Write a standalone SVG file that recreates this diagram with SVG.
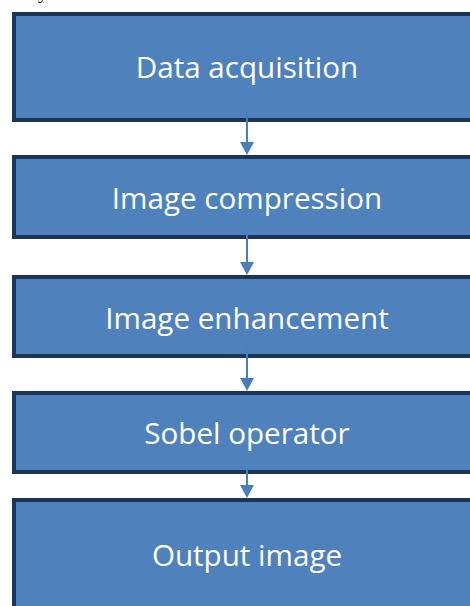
<svg xmlns="http://www.w3.org/2000/svg" width="470" height="606" viewBox="0 0 470 606">
<style>
.box{fill:#4F81BD;stroke:#1C3557;stroke-width:4}
.lbl{font-family:"Open Sans","Noto Sans",sans-serif;font-size:29.6px;fill:#FFFFFF;text-anchor:middle}
.conn{stroke:#4A7EBB;stroke-width:2;fill:none}
.head{fill:#4A7EBB}
</style>
<rect width="470" height="606" fill="#FFFFFF"/>
<text x="38" y="-2" font-family="'Liberation Serif',serif" font-size="20" fill="#000">y</text>
<g id="n1"><rect class="box" x="14" y="14" width="470" height="106"/><text class="lbl" x="247" y="78">Data acquisition</text></g>
<g id="n2"><rect class="box" x="14" y="157" width="470" height="80"/><text class="lbl" x="247" y="209">Image compression</text></g>
<g id="n3"><rect class="box" x="14" y="277" width="470" height="79"/><text class="lbl" x="247" y="329">Image enhancement</text></g>
<g id="n4"><rect class="box" x="14" y="393" width="470" height="79"/><text class="lbl" x="247" y="444">Sobel operator</text></g>
<g id="n5"><rect class="box" x="14" y="500" width="470" height="120"/><text class="lbl" x="247" y="566">Output image</text></g>
<g id="connectors">
<line class="conn" x1="247" y1="112" x2="247" y2="145"/><polygon class="head" points="240,142 254,142 247,155"/>
<line class="conn" x1="247" y1="232" x2="247" y2="265"/><polygon class="head" points="240,262 254,262 247,275"/>
<line class="conn" x1="247" y1="350" x2="247" y2="381"/><polygon class="head" points="240,378 254,378 247,391"/>
<line class="conn" x1="247" y1="467" x2="247" y2="488"/><polygon class="head" points="240,485 254,485 247,498"/>
</g>
</svg>
